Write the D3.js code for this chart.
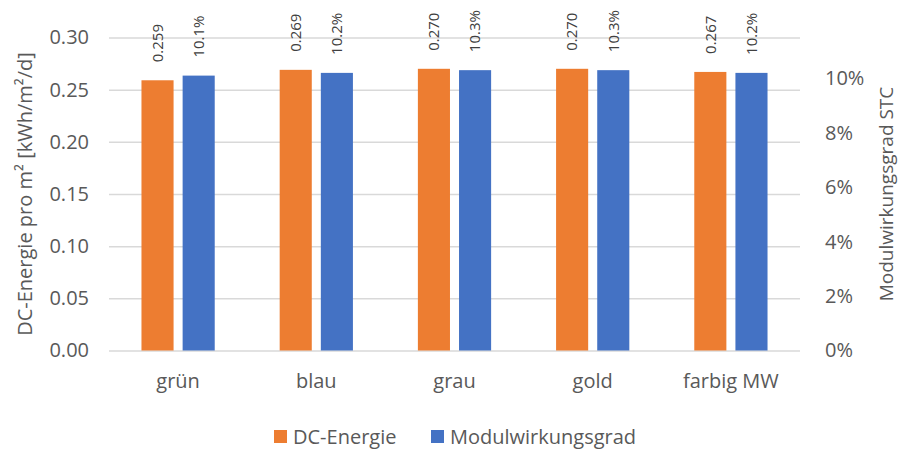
<!DOCTYPE html>
<html>
<head>
<meta charset="utf-8">
<script src="https://cdn.jsdelivr.net/npm/d3@7"></script>
<style>
  html, body { margin: 0; padding: 0; background: #fff; }
  svg { display: block; font-family: "Open Sans", sans-serif; }
</style>
</head>
<body>
<svg id="chart" width="899" height="449"></svg>
<script>
const categories = ["grün", "blau", "grau", "gold", "farbig MW"];
const dcEnergie = [0.259, 0.269, 0.270, 0.270, 0.267];
const modulWirkungsgrad = [0.101, 0.102, 0.103, 0.103, 0.102];
const leftTicks = [0, 0.05, 0.10, 0.15, 0.20, 0.25, 0.30];
const rightTicks = [0, 0.02, 0.04, 0.06, 0.08, 0.10];
const seriesNames = ["DC-Energie", "Modulwirkungsgrad"];
const colors = ["#ED7D31", "#4472C4"];

const svg = d3.select("#chart");
svg.append("rect").attr("width", 899).attr("height", 449).attr("fill", "#fff");

const plot = { left: 109, right: 800, top: 37.5, bottom: 350.5 };

const x0 = d3.scaleBand().domain(categories)
  .range([plot.left, plot.right]).paddingInner(0.47).paddingOuter(0.235);
const x1 = d3.scaleBand().domain(seriesNames)
  .range([0, x0.bandwidth()]).paddingInner(0.22);
const yL = d3.scaleLinear().domain([0, 0.30]).range([plot.bottom, plot.top]);
const yR = d3.scaleLinear().domain([0, 0.115]).range([plot.bottom, plot.top]);

// gridlines
const grid = svg.append("g").attr("transform", `translate(${plot.left},0)`)
  .call(d3.axisLeft(yL).tickValues(leftTicks).tickSize(-(plot.right - plot.left)).tickFormat(""));
grid.select(".domain").remove();
grid.selectAll("line").attr("stroke", "#d9d9d9").attr("stroke-width", 1.5);

// left axis labels
const axL = svg.append("g").attr("transform", `translate(${plot.left - 20},0)`)
  .call(d3.axisLeft(yL).tickValues(leftTicks).tickSize(0).tickPadding(0).tickFormat(d3.format(".2f")));
axL.select(".domain").remove();
axL.selectAll("text").attr("font-family", "Open Sans").attr("font-size", 20).attr("fill", "#595959");

// right axis labels
const axR = svg.append("g").attr("transform", `translate(825,0)`)
  .call(d3.axisRight(yR).tickValues(rightTicks).tickSize(0).tickPadding(0).tickFormat(d3.format(".0%")));
axR.select(".domain").remove();
axR.selectAll("text").attr("font-family", "Open Sans").attr("font-size", 20).attr("fill", "#595959");

// x axis labels
const axX = svg.append("g").attr("transform", `translate(0,${plot.bottom})`)
  .call(d3.axisBottom(x0).tickSize(0).tickPadding(0));
axX.select(".domain").remove();
axX.selectAll("text").attr("font-family", "Open Sans").attr("font-size", 20).attr("fill", "#595959")
  .attr("dy", null).attr("y", 37);

// bars
const rows = categories.map((c, i) => ({ cat: c, vals: [
  { s: seriesNames[0], v: dcEnergie[i], y: yL, label: d3.format(".3f")(dcEnergie[i]) },
  { s: seriesNames[1], v: modulWirkungsgrad[i], y: yR, label: d3.format(".1%")(modulWirkungsgrad[i]) }
]}));

const groups = svg.append("g").selectAll("g").data(rows).join("g")
  .attr("transform", d => `translate(${x0(d.cat)},0)`);

groups.selectAll("rect").data(d => d.vals).join("rect")
  .attr("x", d => x1(d.s))
  .attr("width", x1.bandwidth())
  .attr("y", d => d.y(d.v))
  .attr("height", d => plot.bottom - d.y(d.v))
  .attr("fill", (d, i) => colors[i]);

groups.selectAll("text").data(d => d.vals).join("text")
  .attr("transform", d => `translate(${x1(d.s) + x1.bandwidth() / 2},${d.y(d.v) - 18}) rotate(-90)`)
  .attr("dy", "0.35em")
  .attr("text-anchor", "start")
  .attr("font-size", 15)
  .attr("fill", "#404040")
  .text(d => d.label);

// axis titles
svg.append("text")
  .attr("transform", `translate(25,${(plot.top + plot.bottom) / 2}) rotate(-90)`)
  .attr("text-anchor", "middle").attr("dy", "0.35em")
  .attr("font-size", 20).attr("fill", "#595959")
  .text("DC-Energie pro m² [kWh/m²/d]");

svg.append("text")
  .attr("transform", `translate(886,${(plot.top + plot.bottom) / 2}) rotate(-90)`)
  .attr("text-anchor", "middle").attr("dy", "0.35em")
  .attr("font-size", 19).attr("fill", "#595959")
  .text("Modulwirkungsgrad STC");

// legend
const legendX = [274, 431];
const legend = svg.append("g").selectAll("g").data(seriesNames).join("g")
  .attr("transform", (d, i) => `translate(${legendX[i]},430)`);
legend.append("rect").attr("width", 13).attr("height", 13).attr("fill", (d, i) => colors[i]);
legend.append("text").attr("x", 19).attr("y", 6.5).attr("dy", "0.35em")
  .attr("font-size", 20).attr("fill", "#595959").text(d => d);
</script>
</body>
</html>
